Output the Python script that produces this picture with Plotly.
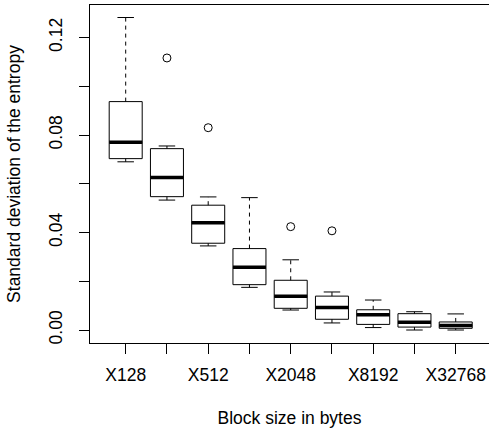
import plotly.graph_objects as go

# ---- data ----
categories = ["X128", "X256", "X512", "X1024", "X2048", "X4096", "X8192", "X16384", "X32768"]
q1_vals = [0.0703, 0.0547, 0.0356, 0.0186, 0.0089, 0.0044, 0.0023, 0.0012, 0.0007]
median_vals = [0.0770, 0.0626, 0.0440, 0.0257, 0.0138, 0.0092, 0.0063, 0.0032, 0.0018]
q3_vals = [0.0937, 0.0744, 0.0512, 0.0334, 0.0204, 0.0139, 0.0083, 0.0067, 0.0033]
lower_whisker = [0.0690, 0.0533, 0.0345, 0.0175, 0.0082, 0.0029, 0.0010, 0.0000, 0.0000]
upper_whisker = [0.1282, 0.0755, 0.0546, 0.0543, 0.0288, 0.0156, 0.0123, 0.0075, 0.0066]
outlier_cat = ["X256", "X512", "X2048", "X4096"]
outlier_vals = [0.1116, 0.0830, 0.0424, 0.0407]
y_tick_vals = [0.00, 0.02, 0.04, 0.06, 0.08, 0.10, 0.12]
y_tick_text = ["0.00", "", "0.04", "", "0.08", "", "0.12"]

FONT = "Liberation Sans, Arial, Helvetica, sans-serif"
FS = 17.5
pos = list(range(1, len(categories) + 1))
BOX_WIDTH = 0.8
BOX_HALF = BOX_WIDTH / 2
STAPLE_HALF = 0.2

fig = go.Figure()

# box bodies
fig.add_trace(go.Box(
    x=pos, q1=q1_vals, median=median_vals, q3=q3_vals,
    lowerfence=q1_vals, upperfence=q3_vals, width=BOX_WIDTH,
    fillcolor="white", line=dict(color="black", width=1),
    whiskerwidth=0, boxpoints=False, showlegend=False, hoverinfo="skip",
))

# dashed whiskers
wx, wy = [], []
for p, a, b, c, d in zip(pos, q3_vals, upper_whisker, q1_vals, lower_whisker):
    wx += [p, p, None, p, p, None]
    wy += [a, b, None, c, d, None]
fig.add_trace(go.Scatter(x=wx, y=wy, mode="lines",
                         line=dict(color="black", width=1, dash="4px,4px"),
                         showlegend=False, hoverinfo="skip"))

# staples
sx, sy = [], []
for p, lo, hi in zip(pos, lower_whisker, upper_whisker):
    sx += [p - STAPLE_HALF, p + STAPLE_HALF, None, p - STAPLE_HALF, p + STAPLE_HALF, None]
    sy += [hi, hi, None, lo, lo, None]
fig.add_trace(go.Scatter(x=sx, y=sy, mode="lines",
                         line=dict(color="black", width=1),
                         showlegend=False, hoverinfo="skip"))

# thick medians
mx, my = [], []
for p, m in zip(pos, median_vals):
    mx += [p - BOX_HALF, p + BOX_HALF, None]
    my += [m, m, None]
fig.add_trace(go.Scatter(x=mx, y=my, mode="lines",
                         line=dict(color="black", width=3.5),
                         showlegend=False, hoverinfo="skip"))

# outliers
ox = [categories.index(c) + 1 for c in outlier_cat]
fig.add_trace(go.Scatter(x=ox, y=outlier_vals, mode="markers",
                         marker=dict(symbol="circle-open", size=8,
                                     color="black", line=dict(width=1)),
                         showlegend=False, hoverinfo="skip"))

x_tick_text = [c if i % 2 == 0 else "" for i, c in enumerate(categories)]

fig.update_layout(
    width=489, height=432,
    margin=dict(l=90, r=0, t=5, b=89, pad=0),
    paper_bgcolor="white", plot_bgcolor="white",
    font=dict(family=FONT, size=FS, color="black"),
    xaxis=dict(
        range=[0.1345, 9.807], tickmode="array", tickvals=pos, ticktext=x_tick_text,
        ticks="outside", ticklen=10, tickwidth=1, tickcolor="black",
        showline=True, linecolor="black", linewidth=1, mirror=True,
        showgrid=False, zeroline=False, automargin=False,
        ticklabelstandoff=6,
        title=dict(text="Block size in bytes", font=dict(size=FS), standoff=27),
    ),
    yaxis=dict(
        range=[-0.00533, 0.13333], tickmode="array", tickvals=y_tick_vals, ticktext=y_tick_text,
        tickangle=-90,
        ticks="outside", ticklen=10, tickwidth=1, tickcolor="black",
        showline=True, linecolor="black", linewidth=1, mirror=False,
        showgrid=False, zeroline=False, automargin=False,
        ticklabelstandoff=10,
        title=dict(text="Standard deviation of the entropy", font=dict(size=FS), standoff=20),
    ),
)

fig.write_html("out.html", config={"displayModeBar": False},
               post_script="document.body.style.margin='0px';")
